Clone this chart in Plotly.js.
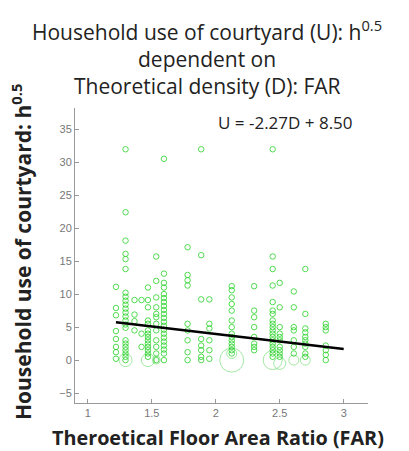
<!DOCTYPE html>
<html>
<head>
<meta charset="utf-8">
<script src="https://cdn.plot.ly/plotly-3.0.1.min.js"></script>
<style>html,body{margin:0;padding:0;background:#fff;}#chart{width:409px;height:451px;}</style>
</head>
<body>
<div id="chart"></div>
<script>
// FAR column positions and the U values observed in each column
var farColumns = [1.22, 1.295, 1.365, 1.42, 1.47, 1.535, 1.595, 1.78, 1.886, 1.95, 2.125, 2.30, 2.445, 2.50, 2.61, 2.70, 2.86];
var useValues = [
  [11.1, 7.9, 6.8, 4.4, 3.2, 2.0, 1.2, 0.2],
  [31.95, 22.4, 18.1, 16.1, 15.3, 13.8, 10.2, 9.6, 9.0, 8.4, 7.8, 7.2, 6.6, 6.0, 5.4, 4.9, 3.0, 2.5, 2.0, 1.5, 1.0, 0.5, 0.0],
  [9.1, 6.9, 5.9, 4.5],
  [9.1, 4.0, 2.0],
  [11.0, 9.1, 8.0, 6.0, 5.5, 4.5, 4.0, 3.5, 3.0, 2.5, 2.0, 1.5, 1.0, 0.5],
  [15.7, 12.0, 9.5, 8.0, 7.0, 6.5, 5.5, 4.5, 3.0, 2.0, 1.0, 0.0],
  [30.5, 13.1, 11.7, 11.0, 10.0, 9.4, 8.8, 8.2, 7.6, 7.0, 6.4, 5.8, 5.2, 4.6, 4.0, 3.4, 2.8, 2.2, 1.6, 1.0, 0.0],
  [17.1, 12.9, 12.1, 11.3, 5.5, 4.5, 3.0, 1.2, 0.0],
  [31.95, 15.9, 9.2, 3.2, 2.2, 1.5, 0.5, 0.0],
  [9.2, 5.5, 4.8, 3.0, 1.5, 0.2],
  [11.2, 10.6, 9.5, 8.5, 7.5, 6.0, 5.0, 4.0, 3.5, 3.0, 2.5, 2.0, 1.5, 1.0],
  [11.2, 7.5, 6.5, 5.0, 3.5, 2.5, 2.0, 1.5],
  [31.95, 15.7, 13.8, 11.3, 8.8, 7.5, 7.0, 6.0, 5.5, 5.0, 4.5, 4.0, 3.5, 3.0, 2.5, 2.0, 1.5, 1.0, 0.5],
  [11.7, 8.0, 5.0, 4.0, 3.5, 3.0, 2.0, 1.5, 1.0, 0.5],
  [10.4, 8.0, 5.0, 4.5, 3.0, 2.0, 1.0],
  [13.8, 7.0, 4.8, 4.2, 3.5, 3.0, 2.5, 2.0, 1.0, 0.5],
  [5.5, 5.0, 4.5, 2.2, 1.5, 0.8, 0.0]
];
// Larger bubbles (more households at same value)
var bubbleX = [1.295, 1.47, 1.535, 2.125, 2.125, 2.445, 2.50, 2.61, 2.70];
var bubbleY = [0.0, 0.0, 0.0, 0.0, 1.0, 0.0, -0.5, 0.0, 0.0];
var bubbleSize = [13, 13, 8, 24, 10, 19, 12, 10, 10];
// Regression line U = -2.27D + 8.50
var fitX = [1.22, 3.0];
var fitY = [5.73, 1.69];
// Texts
var titleLines = ['Household use of courtyard (U): h<sup>0.5</sup>', 'dependent on', 'Theoretical density (D): FAR'];
var xTitle = '<b>Theroetical Floor Area Ratio (FAR)</b>';
var yTitle = '<b>Household use of courtyard: h<sup>0.5</sup></b>';
var eqText = 'U = -2.27D + 8.50';

var ptsX = [], ptsY = [];
farColumns.forEach(function (fx, i) {
  useValues[i].forEach(function (v) { ptsX.push(fx); ptsY.push(v); });
});

var W = 409, H = 451, ML = 75, MR = 41, MT = 108, MB = 48;
var PW = W - ML - MR, PH = H - MT - MB;
function px2x(p) { return (p - ML) / PW; }
function px2y(p) { return 1 - (p - MT) / PH; }

var green = 'rgba(40,210,40,0.8)';
var traces = [
  {x: ptsX, y: ptsY, type: 'scatter', mode: 'markers',
   marker: {symbol: 'circle-open', size: 5.5, color: green, line: {width: 1, color: green}},
   hoverinfo: 'skip', showlegend: false},
  {x: bubbleX, y: bubbleY, type: 'scatter', mode: 'markers',
   marker: {symbol: 'circle-open', size: bubbleSize, color: 'rgba(40,200,40,0.6)', line: {width: 1, color: 'rgba(40,200,40,0.6)'}},
   hoverinfo: 'skip', showlegend: false},
  {x: fitX, y: fitY, type: 'scatter', mode: 'lines',
   line: {color: '#000', width: 2.5}, hoverinfo: 'skip', showlegend: false}
];

var tickFont = {family: 'Liberation Sans, Arial, sans-serif', size: 11, color: '#777'};
var titleFont = {family: 'Open Sans, sans-serif', size: 21, color: '#222'};
var annotations = [];
var titleY = [31, 59, 86];
titleLines.forEach(function (t, i) {
  annotations.push({text: t, x: px2x(207), y: px2y(titleY[i]), xref: 'paper', yref: 'paper',
    xanchor: 'center', yanchor: 'middle', showarrow: false, font: titleFont});
});
annotations.push({text: eqText, x: px2x(285), y: px2y(122), xref: 'paper', yref: 'paper',
  xanchor: 'center', yanchor: 'middle', showarrow: false,
  font: {family: 'Open Sans, sans-serif', size: 17, color: '#222'}});
annotations.push({text: xTitle, x: px2x(218), y: px2y(437), xref: 'paper', yref: 'paper',
  xanchor: 'center', yanchor: 'middle', showarrow: false,
  font: {family: 'Open Sans, sans-serif', size: 19.8, color: '#222'}});
annotations.push({text: yTitle, x: px2x(21), y: px2y(252), xref: 'paper', yref: 'paper',
  xanchor: 'center', yanchor: 'middle', textangle: -90, showarrow: false,
  font: {family: 'Open Sans, sans-serif', size: 21, color: '#222'}});

var layout = {
  width: W, height: H,
  paper_bgcolor: '#fff', plot_bgcolor: '#fff',
  margin: {l: ML, r: MR, t: MT, b: MB},
  xaxis: {
    range: [0.9, 3.19], tickvals: [1, 1.5, 2, 2.5, 3], ticktext: ['1', '1.5', '2', '2.5', '3'],
    showgrid: false, zeroline: false, showline: true, linecolor: '#999', linewidth: 1,
    ticks: 'inside', ticklen: 4, tickcolor: '#999', tickfont: tickFont
  },
  yaxis: {
    range: [-6.5, 38.2], tickvals: [-5, 0, 5, 10, 15, 20, 25, 30, 35],
    showgrid: false, zeroline: false, showline: true, linecolor: '#999', linewidth: 1,
    ticks: 'inside', ticklen: 4, tickcolor: '#999', tickfont: tickFont
  },
  annotations: annotations
};

Plotly.newPlot('chart', traces, layout, {displayModeBar: false, staticPlot: true});
</script>
</body>
</html>
